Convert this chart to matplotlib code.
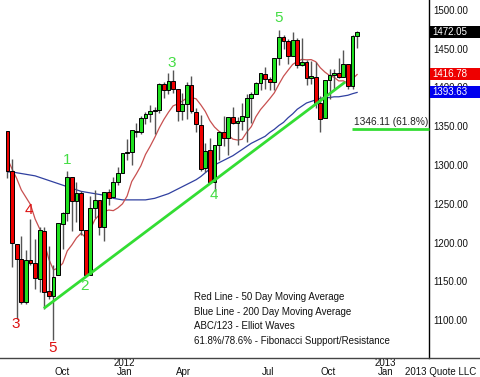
import matplotlib
matplotlib.use("Agg")
import matplotlib.pyplot as plt
from matplotlib.patches import Rectangle
from matplotlib.lines import Line2D

plt.rcParams['font.family'] = ['Liberation Sans', 'DejaVu Sans']

# weekly S&P 500 candles, Jul 25 2011 .. Jan 7 2013
opens = [1344.3, 1292.6, 1198.5, 1179.2, 1123.6, 1177.9, 1173.6, 1153.5, 1215.0, 1136.9,
         1131.2, 1158.2, 1224.5, 1238.7, 1285.0, 1253.2, 1263.9, 1215.6, 1158.7, 1244.3,
         1255.1, 1219.7, 1265.0, 1258.9, 1277.8, 1290.2, 1315.3, 1316.2, 1344.3, 1343.1,
         1361.2, 1365.2, 1369.6, 1370.8, 1404.2, 1397.1, 1408.5, 1397.5, 1370.3, 1378.5,
         1403.3, 1368.8, 1351.9, 1295.7, 1318.9, 1278.3, 1325.9, 1342.4, 1334.9, 1362.3,
         1354.7, 1356.5, 1362.3, 1385.9, 1391.0, 1405.9, 1417.9, 1411.1, 1406.5, 1437.9,
         1465.4, 1459.8, 1440.9, 1461.4, 1428.8, 1433.2, 1411.9, 1414.0, 1380.1, 1360.0,
         1409.2, 1416.3, 1418.1, 1413.5, 1430.2, 1402.4, 1466.5]
highs = [1344.3, 1307.4, 1198.5, 1208.5, 1190.7, 1230.7, 1204.4, 1220.1, 1220.4, 1195.9,
         1171.4, 1224.6, 1239.0, 1292.7, 1285.0, 1277.6, 1267.0, 1215.6, 1260.1, 1267.1,
         1255.1, 1265.4, 1269.4, 1284.6, 1296.8, 1315.5, 1333.5, 1345.3, 1354.3, 1363.4,
         1368.0, 1378.0, 1374.8, 1405.9, 1407.1, 1419.2, 1422.4, 1398.1, 1392.8, 1406.6,
         1415.3, 1373.9, 1364.6, 1328.5, 1334.9, 1325.8, 1343.3, 1363.5, 1362.2, 1374.8,
         1361.5, 1380.4, 1391.7, 1394.2, 1407.1, 1418.7, 1426.7, 1413.5, 1437.9, 1474.5,
         1467.1, 1463.2, 1471.0, 1464.0, 1464.0, 1435.5, 1434.3, 1433.4, 1388.8, 1409.2,
         1424.5, 1423.7, 1438.6, 1448.0, 1430.2, 1467.9, 1472.3]
lows = [1282.9, 1168.1, 1101.5, 1121.1, 1121.1, 1171.0, 1140.1, 1136.1, 1114.2, 1127.4,
        1074.8, 1158.2, 1191.5, 1228.0, 1215.4, 1226.6, 1209.4, 1158.7, 1158.7, 1231.5,
        1209.5, 1202.4, 1248.6, 1258.9, 1274.4, 1290.2, 1306.1, 1300.5, 1335.9, 1340.0,
        1352.8, 1354.9, 1340.0, 1366.7, 1386.9, 1391.6, 1392.5, 1357.4, 1358.0, 1358.8,
        1367.6, 1343.1, 1292.0, 1291.0, 1277.3, 1266.7, 1306.6, 1324.4, 1313.3, 1353.3,
        1325.4, 1345.1, 1329.2, 1354.6, 1391.0, 1397.3, 1398.0, 1397.0, 1396.6, 1429.1,
        1450.0, 1430.5, 1440.9, 1425.5, 1427.2, 1403.3, 1405.0, 1373.0, 1343.1, 1360.0,
        1385.4, 1398.0, 1411.9, 1413.5, 1398.1, 1398.1, 1451.6]
closes = [1292.3, 1199.4, 1178.8, 1123.5, 1176.8, 1174.0, 1154.2, 1216.0, 1136.4, 1131.4,
          1155.5, 1224.6, 1238.3, 1285.1, 1253.2, 1263.9, 1215.7, 1158.7, 1244.3, 1255.2,
          1219.7, 1265.3, 1257.6, 1277.8, 1289.1, 1315.4, 1316.3, 1344.9, 1342.6, 1361.2,
          1365.7, 1369.6, 1370.9, 1404.2, 1397.1, 1408.5, 1398.1, 1370.3, 1378.5, 1403.4,
          1369.1, 1353.4, 1295.2, 1317.8, 1278.0, 1325.7, 1342.8, 1335.0, 1362.2, 1354.7,
          1356.8, 1362.7, 1386.0, 1391.0, 1405.9, 1418.2, 1411.1, 1406.6, 1437.9, 1465.8,
          1460.2, 1440.7, 1460.9, 1428.6, 1433.2, 1411.9, 1414.2, 1379.9, 1359.9, 1409.2,
          1416.2, 1418.1, 1413.6, 1430.2, 1402.4, 1466.5, 1472.05]

# 50 day (red) and 200 day (blue) moving averages
ma50 = [1307.9, 1294.8, 1282.6, 1267.9, 1258.4, 1248.9, 1230.4, 1217.6, 1199.6, 1178.3,
        1164.6, 1167.1, 1173.1, 1189.2, 1196.9, 1205.9, 1212.0, 1206.3, 1217.1, 1229.5,
        1235.9, 1239.9, 1241.9, 1241.1, 1244.7, 1249.9, 1259.9, 1278.6, 1288.4, 1299.0,
        1313.6, 1324.0, 1335.4, 1348.0, 1358.8, 1368.1, 1376.3, 1378.8, 1382.4, 1386.6,
        1387.0, 1385.4, 1377.8, 1369.1, 1357.2, 1349.0, 1343.4, 1339.9, 1338.3, 1333.4,
        1332.2, 1333.1, 1342.2, 1349.5, 1362.3, 1371.5, 1378.4, 1385.5, 1393.1, 1404.2,
        1414.5, 1422.3, 1429.8, 1433.6, 1436.3, 1435.7, 1436.0, 1433.3, 1425.5, 1419.9,
        1415.5, 1413.2, 1408.5, 1408.6, 1405.6, 1411.0, 1416.78]
ma200 = [1291, 1291, 1290, 1289, 1288, 1287, 1286, 1284, 1282, 1280,
         1278, 1276, 1274, 1272, 1270, 1268, 1266, 1265, 1264, 1263,
         1262, 1261, 1259, 1257, 1256, 1255, 1255, 1255, 1255, 1255,
         1255, 1256, 1257, 1259, 1261, 1263, 1266, 1269, 1272, 1275,
         1278, 1281, 1285, 1290, 1295, 1300, 1303, 1306, 1309, 1312,
         1316, 1320, 1324, 1328, 1331, 1334, 1337, 1342, 1346, 1351,
         1355, 1361, 1366, 1372, 1376, 1380, 1382, 1384, 1386, 1387,
         1387, 1388, 1388, 1389, 1390, 1392, 1393.63]

trend_x = [7.9, 73.4]
trend_y = [1115, 1407]
fib_level = 1346.11

month_labels = ['Oct', 'Jan', 'Apr', 'Jul', 'Oct', 'Jan']
month_pos = [11.85, 25.5, 38.2, 56.6, 69.7, 82.1]
year_labels = ['2012', '2013']
year_pos = [25.5, 82.1]

waves_red = [('3', 1.85, 1095), ('4', 4.7, 1242), ('5', 9.9, 1064)]
waves_green = [('1', 12.9, 1306), ('2', 16.8, 1144), ('3', 35.8, 1432),
               ('4', 44.9, 1261), ('5', 59.0, 1490)]

notes = ['Red Line - 50 Day Moving Average',
         'Blue Line - 200 Day Moving Average',
         'ABC/123 - Elliot Waves',
         '61.8%/78.6% - Fibonacci Support/Resistance']

GREEN = '#1ee01e'
RED = '#ee0000'

fig = plt.figure(figsize=(4.8, 3.77), dpi=100)
ax = fig.add_axes([0, 19 / 377, 429 / 480, 358 / 377])
ax.set_xlim(-1.63, 91.63)
ax.set_ylim(1050.97, 1512.9)

for s in ['top', 'left', 'bottom']:
    ax.spines[s].set_visible(False)
ax.spines['right'].set_color('black')
ax.spines['right'].set_linewidth(1)

n = len(closes)
xs = list(range(n))

# moving averages
ax.plot(xs, ma200, color='#3040a0', lw=0.9, zorder=2)
ax.plot(xs, ma50, color='#c85050', lw=0.9, zorder=2)

# candles
for i in xs:
    ax.vlines(i, lows[i], highs[i], color='#555555', lw=1, zorder=3)
    col = GREEN if closes[i] >= opens[i] else RED
    bottom = min(opens[i], closes[i])
    h = abs(closes[i] - opens[i])
    ax.add_patch(Rectangle((i - 0.42, bottom), 0.84, h, facecolor=col,
                           edgecolor='black', lw=0.7, zorder=4))

# trend line and fib level
ax.plot(trend_x, trend_y, color='#33dd33', lw=2, zorder=5, solid_capstyle='butt')
ax.plot([74.9, 91.63], [fib_level, fib_level], color='#33dd33', lw=2, zorder=5,
        solid_capstyle='butt', clip_on=False)
ax.text(75.3, fib_level + 2.5, '1346.11 (61.8%)', fontsize=7.3, color='#222222',
        ha='left', va='bottom', zorder=6)

# Elliott wave labels
for t, x, y in waves_red:
    ax.text(x, y, t, color='#dd1111', fontsize=11, ha='center', va='center')
for t, x, y in waves_green:
    ax.text(x, y, t, color='#44dd44', fontsize=11, ha='center', va='center')

# notes
for k, t in enumerate(notes):
    ax.text(194 / 429, (358 - 297 - 14.7 * k) / 358, t, transform=ax.transAxes,
            fontsize=7, color='#111111', ha='left', va='center')

# right axis
ax.yaxis.set_ticks_position('right')
ax.set_yticks([1100, 1150, 1200, 1250, 1300, 1350, 1400, 1450, 1500])
ax.set_yticklabels(['%.2f' % v for v in ax.get_yticks()])
ax.tick_params(axis='y', length=0, pad=3, labelsize=7, labelcolor='#111111')
ax.set_xticks([])

# value boxes on the axis
yt = ax.get_yaxis_transform()
boxes = [(closes[-1], 'black', 'white'), (ma50[-1], '#ee0000', 'white'),
         (ma200[-1], '#0000ee', 'white')]
for val, bg, fg in boxes:
    ax.add_patch(Rectangle((1 + 1 / 429, val - 6 / 0.775), 51 / 429, 12 / 0.775,
                           transform=yt, facecolor=bg, edgecolor='none',
                           clip_on=False, zorder=10))
    ax.text(1 + 3 / 429, val, '%.2f' % val, transform=yt, color=fg, fontsize=7,
            ha='left', va='center', zorder=11, clip_on=False)

# date labels
xt = ax.get_xaxis_transform()
for t, x in zip(month_labels, month_pos):
    ax.text(x, -14 / 358, t, transform=xt, fontsize=7, ha='center', va='center',
            color='#111111', clip_on=False)
for t, x in zip(year_labels, year_pos):
    ax.text(x, -5 / 358, t, transform=xt, fontsize=7, ha='center', va='center',
            color='#111111', clip_on=False)
fig.text(476 / 480, 5 / 377, '2013 Quote LLC', fontsize=7, ha='right', va='center',
         color='#111111')

fig.add_artist(Line2D([0, 1], [19 / 377, 19 / 377], color='#444444', lw=1,
                      transform=fig.transFigure))

fig.savefig('out.png', dpi=100)
